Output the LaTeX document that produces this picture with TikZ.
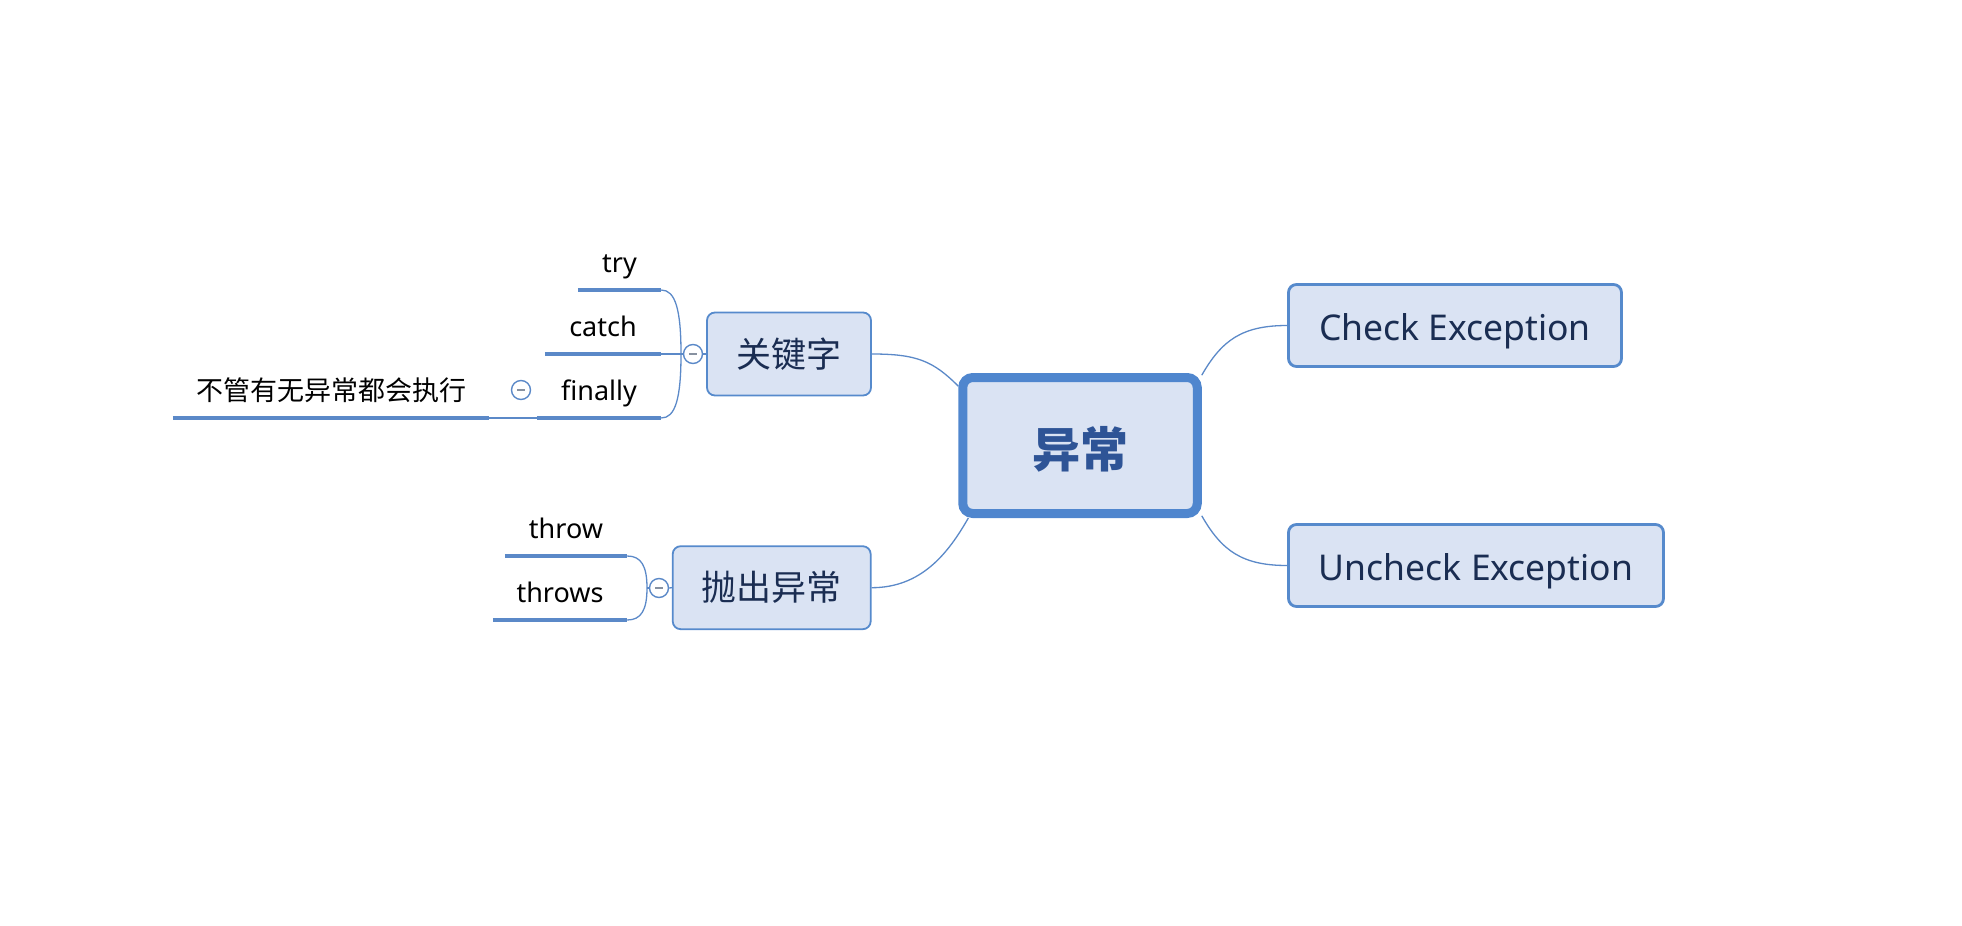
\documentclass[tikz,border=0pt]{standalone}
\usepackage{fontspec}
\setmainfont{Noto Sans}
\newfontfamily\cjk{Noto Sans CJK SC}
\usetikzlibrary{backgrounds}

\definecolor{linkblue}{RGB}{91,137,200}
\definecolor{boxfill}{RGB}{218,227,243}
\definecolor{boxline}{RGB}{86,138,204}
\definecolor{mainline}{RGB}{79,134,206}
\definecolor{topictext}{RGB}{26,45,82}
\definecolor{maintext}{RGB}{46,84,150}
\definecolor{foldminus}{RGB}{135,145,160}

\tikzset{
  central/.style={draw=mainline, line width=9pt, fill=boxfill, rounded corners=10pt,
    minimum width=234.5pt, minimum height=136pt, inner sep=0pt, text=maintext,
    text height=44pt, text depth=0pt, font=\cjk\bfseries\fontsize{48}{56}\selectfont},
  topic/.style={draw=boxline, line width=1.8pt, fill=boxfill, rounded corners=8pt,
    minimum height=83pt, inner sep=0pt, text=topictext, font=\fontsize{35}{42}\selectfont},
  wide topic/.style={topic, line width=2.8pt, minimum height=82pt,
    text height=31pt, text depth=2pt, font=\fontsize{35.5}{42}\selectfont},
  leaf/.style={inner xsep=0pt, inner ysep=0pt, text height=22pt, text depth=17.5pt,
    anchor=south, font=\fontsize{27}{32}\selectfont},
  uline/.style={draw=linkblue, line width=4.5pt},
  link/.style={draw=linkblue, line width=1.3pt},
  fold/.style={circle, draw=linkblue, line width=1.4pt, fill=white, minimum size=19pt,
    inner sep=0pt, path picture={\draw[foldminus, line width=1.6pt]
      ([xshift=-4pt]path picture bounding box.center) -- ([xshift=4pt]path picture bounding box.center);}},
}

\begin{document}
\begin{tikzpicture}[x=1pt,y=1pt,yscale=-1]
\useasboundingbox (0,0) rectangle (1962,926);

% central topic
\node[central] (exc) at (1080,445.5) {异常};

% main topics
\node[topic, minimum width=164pt] (kw) at (789,354) {\cjk 关键字};
\node[topic, minimum width=198pt] (thr) at (771.7,587.7) {\cjk 抛出异常};
\node[wide topic, minimum width=333pt] (chk) at (1455,325.5) {Check Exception};
\node[wide topic, minimum width=375pt] (unchk) at (1476,565.5) {Uncheck Exception};

% fold markers
\node[fold] (kwfold) at (693,354) {};
\node[fold] (thrfold) at (659,588) {};
\node[fold] (finfold) at (521,390) {};
\coordinate (kwfork) at (681,354);
\coordinate (thrfork) at (647,588);

% subtopics
\node[leaf, minimum width=83pt] (try) at (619.5,290) {try};
\node[leaf, minimum width=116pt] (catch) at (603,354) {catch};
\node[leaf, minimum width=124pt] (fin) at (599,418) {finally};
\node[leaf, minimum width=316pt] (note) at (331,418) {\cjk 不管有无异常都会执行};
\node[leaf, minimum width=122pt] (throw) at (566,556) {throw};
\node[leaf, minimum width=134pt] (throws) at (560,620) {throws};
\foreach \n in {try,catch,fin,note,throw,throws}
  \draw[uline] (\n.south west) -- (\n.south east);

% connectors
\begin{scope}[on background layer]
\draw[link] (kw.east) .. controls +(45,0) and +(-25,-25) .. (exc.154);
\draw[link] (thr.east) .. controls +(50,0) and +(-20,35) .. (exc.213);
\draw[link] (exc.30) .. controls +(20,-35) and +(-45,0) .. (chk.west);
\draw[link] (exc.330) .. controls +(20,35) and +(-45,0) .. (unchk.west);
\draw[link] (kw.west) -- (kwfold.east);
\draw[link] (kwfold.west) -- (kwfork);
\draw[link] (kwfork) .. controls +(0,-45) and +(14,0) .. (try.south east);
\draw[link] (kwfork) -- (catch.south east);
\draw[link] (kwfork) .. controls +(0,45) and +(14,0) .. (fin.south east);
\draw[link] (thr.west) -- (thrfold.east);
\draw[link] (thrfold.west) -- (thrfork);
\draw[link] (thrfork) .. controls +(0,-22) and +(14,0) .. (throw.south east);
\draw[link] (thrfork) .. controls +(0,22) and +(14,0) .. (throws.south east);
\draw[link] (fin.south west) -- (note.south east);
\end{scope}
\end{tikzpicture}
\end{document}
